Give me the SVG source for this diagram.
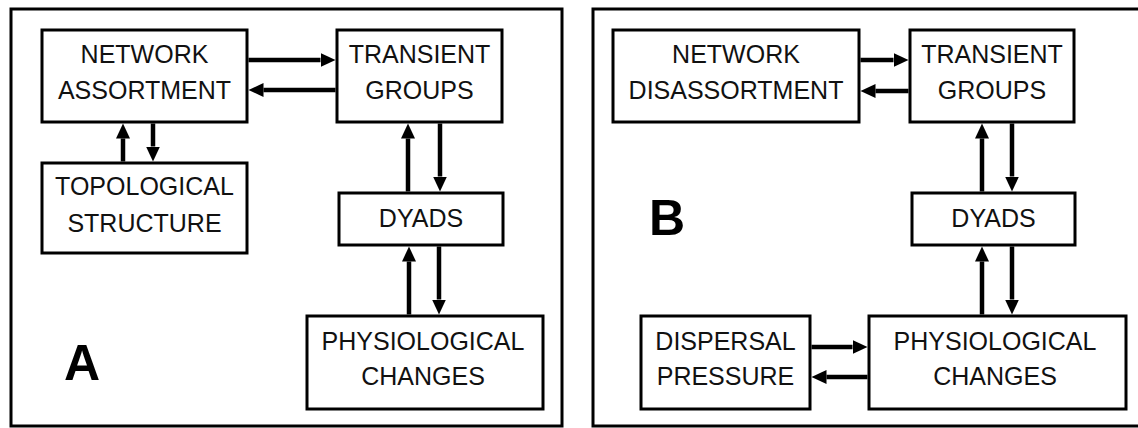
<svg xmlns="http://www.w3.org/2000/svg" width="1138" height="428" viewBox="0 0 1138 428">
<style>
.panel{fill:none;stroke:#000;stroke-width:3}
.box{fill:#fff;stroke:#000;stroke-width:3}
.t{font-family:"Liberation Sans",Arial,sans-serif;font-size:25px;fill:#111;text-anchor:middle}
.lbl{font-family:"Liberation Sans",Arial,sans-serif;font-size:50px;font-weight:bold;fill:#000}
.c{fill:none;stroke:#000;stroke-width:4.5;marker-end:url(#ah)}
</style>
<defs>
<marker id="ah" markerUnits="userSpaceOnUse" markerWidth="16" markerHeight="16" refX="0" refY="8" orient="auto">
<path d="M0,1 L15,8 L0,15 z" fill="#000"/>
</marker>
</defs>
<rect width="1138" height="428" fill="#fff"/>
<g id="panelA">
<rect class="panel" x="11" y="9" width="551" height="417"/>
<text class="lbl" x="64" y="380">A</text>
</g>
<g id="panelB">
<rect class="panel" x="593" y="9" width="560" height="417"/>
<text class="lbl" x="649" y="235">B</text>
</g>
<g id="connectors">
<line class="c" x1="248.5" y1="60" x2="320.5" y2="60"/>
<line class="c" x1="335.5" y1="90" x2="263.5" y2="90"/>
<line class="c" x1="123" y1="161.5" x2="123" y2="138.5"/>
<line class="c" x1="153" y1="123.5" x2="153" y2="146.5"/>
<line class="c" x1="408" y1="191.5" x2="408" y2="138.5"/>
<line class="c" x1="440" y1="123.5" x2="440" y2="176.5"/>
<line class="c" x1="409" y1="314.5" x2="409" y2="261.5"/>
<line class="c" x1="439" y1="246.5" x2="439" y2="299.5"/>
<line class="c" x1="860.5" y1="60" x2="893.5" y2="60"/>
<line class="c" x1="908.5" y1="91" x2="875.5" y2="91"/>
<line class="c" x1="982" y1="191.5" x2="982" y2="138.5"/>
<line class="c" x1="1012" y1="123.5" x2="1012" y2="176.5"/>
<line class="c" x1="982" y1="314.5" x2="982" y2="261.5"/>
<line class="c" x1="1012" y1="246.5" x2="1012" y2="299.5"/>
<line class="c" x1="811.5" y1="347" x2="852.5" y2="347"/>
<line class="c" x1="867.5" y1="377" x2="826.5" y2="377"/>
</g>
<g id="networkAssortment">
<rect class="box" x="42" y="30" width="205" height="92"/>
<text class="t" x="144.5" y="63">NETWORK</text>
<text class="t" x="144.5" y="99">ASSORTMENT</text>
</g>
<g id="transientGroupsA">
<rect class="box" x="337" y="30" width="165" height="92"/>
<text class="t" x="419.5" y="63">TRANSIENT</text>
<text class="t" x="419.5" y="99">GROUPS</text>
</g>
<g id="topologicalStructure">
<rect class="box" x="42" y="163" width="205" height="90"/>
<text class="t" x="144.5" y="195">TOPOLOGICAL</text>
<text class="t" x="144.5" y="232">STRUCTURE</text>
</g>
<g id="dyadsA">
<rect class="box" x="339" y="193" width="164" height="52"/>
<text class="t" x="421" y="227">DYADS</text>
</g>
<g id="physiologicalChangesA">
<rect class="box" x="307" y="316" width="236" height="93"/>
<text class="t" x="423" y="350">PHYSIOLOGICAL</text>
<text class="t" x="423" y="385">CHANGES</text>
</g>
<g id="networkDisassortment">
<rect class="box" x="613" y="30" width="246" height="92"/>
<text class="t" x="736" y="63">NETWORK</text>
<text class="t" x="736" y="99">DISASSORTMENT</text>
</g>
<g id="transientGroupsB">
<rect class="box" x="910" y="30" width="164" height="92"/>
<text class="t" x="992" y="63">TRANSIENT</text>
<text class="t" x="992" y="99">GROUPS</text>
</g>
<g id="dyadsB">
<rect class="box" x="912" y="193" width="163" height="52"/>
<text class="t" x="993.5" y="227">DYADS</text>
</g>
<g id="dispersalPressure">
<rect class="box" x="641" y="316" width="169" height="93"/>
<text class="t" x="725.5" y="350">DISPERSAL</text>
<text class="t" x="725.5" y="385">PRESSURE</text>
</g>
<g id="physiologicalChangesB">
<rect class="box" x="869" y="316" width="257" height="93"/>
<text class="t" x="995" y="350">PHYSIOLOGICAL</text>
<text class="t" x="995" y="385">CHANGES</text>
</g>
</svg>
